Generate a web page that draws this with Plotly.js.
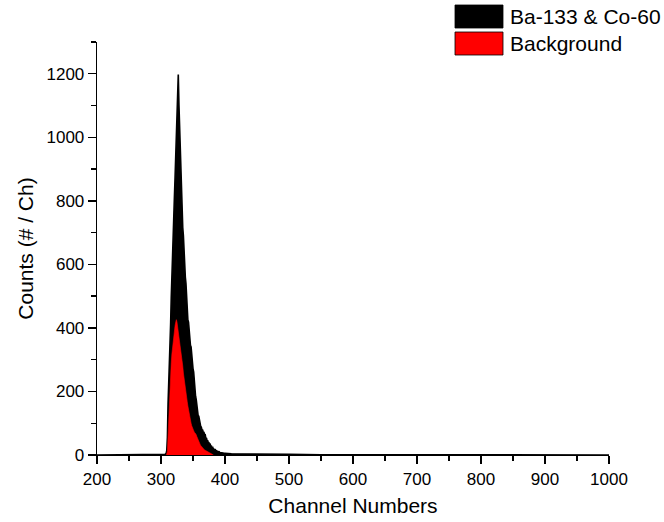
<!DOCTYPE html>
<html>
<head>
<meta charset="utf-8">
<script src="https://cdn.plot.ly/plotly-3.0.1.min.js"></script>
<style>html,body{margin:0;padding:0;background:#fff;}#chart{width:664px;height:522px;}</style>
</head>
<body>
<div id="chart"></div>
<script>
// Ba-133 & Co-60 spectrum: channels and counts
var srcChannels = [200,300,301,302,303,304,305,306,307,308,309,310,311,312,313,314,315,316,317,318,319,320,321,322,323,324,325,326,327,328,329,330,331,332,333,334,335,336,337,338,339,340,341,342,343,344,345,346,347,348,349,350,351,352,353,354,355,356,357,358,359,360,361,362,363,364,365,366,367,368,369,370,371,372,373,374,375,376,377,378,379,380,381,382,383,384,385,386,387,388,389,390,391,392,393,394,395,396,397,398,399,400,410,420,430,440,450,460,480,500,550,600,700,800,900,1000];
var srcCounts = [0,0,0,0,0,1,1,2,3,5,14,55,160,215,265,335,410,495,575,640,700,760,815,875,935,1005,1075,1150,1198,1105,1030,955,905,830,790,715,690,632,618,560,540,482,470,425,418,380,378,345,340,312,305,272,262,225,215,185,175,150,145,124,122,106,104,90,88,78,80,70,73,64,66,52,54,44,46,37,38,31,33,26,27,21,23,17,18,14,16,12,13,10,11,9,10,8,8,7,7,6,6,5,6,5,4,4,3,3,3,2,2,2,1,1,1,1,0,0];

// Background spectrum
var bgChannels = [308,309,310,311,312,313,314,315,316,317,318,319,320,321,322,323,324,325,326,327,328,329,330,331,332,333,334,335,336,337,338,339,340,341,342,343,344,345,346,347,348,349,350,351,352,353,354,355,356,357,358,359,360,361,362,363,364,365,366,367,368,369,370,371,372,373,374,375,376,377,378,379,380,381,382];
var bgCounts = [1,3,12,65,120,150,178,235,290,318,340,358,378,394,408,418,426,418,404,388,374,360,346,336,324,300,280,258,240,224,210,194,180,168,154,140,128,118,110,100,92,85,80,75,72,70,68,64,58,52,47,42,38,34,30,27,24,22,20,18,16,15,14,13,12,11,9,8,6,5,4,3,2,1,0];

var seriesNames = ['Ba-133 & Co-60', 'Background'];
var seriesColors = ['#000000', '#ff0000'];

var xTickVals = [200,300,400,500,600,700,800,900,1000];
var yTickVals = [0,200,400,600,800,1000,1200];

var W = 664, H = 522;
var M = {l: 97, r: 55, t: 42, b: 67};
var pw = W - M.l - M.r, ph = H - M.t - M.b;
function px(x) { return (x - M.l) / pw; }
function py(y) { return 1 - (y - M.t) / ph; }

var traces = [
  {x: srcChannels, y: srcCounts, type: 'scatter', mode: 'lines', fill: 'tozeroy',
   fillcolor: seriesColors[0], line: {color: seriesColors[0], width: 1.6}, name: seriesNames[0], showlegend: false},
  {x: bgChannels, y: bgCounts, type: 'scatter', mode: 'lines', fill: 'tozeroy',
   fillcolor: seriesColors[1], line: {color: seriesColors[1], width: 0.6}, name: seriesNames[1], showlegend: false}
];

var fontFam = 'Arial, "Liberation Sans", sans-serif';

var shapes = [], annotations = [];
var legendRows = [{y0: 5, y1: 28}, {y0: 32, y1: 55}];
for (var i = 0; i < seriesNames.length; i++) {
  shapes.push({type: 'rect', xref: 'paper', yref: 'paper',
    x0: px(455), x1: px(503), y0: py(legendRows[i].y1), y1: py(legendRows[i].y0),
    fillcolor: seriesColors[i], line: {color: '#000', width: 0.8}});
  annotations.push({xref: 'paper', yref: 'paper', x: px(508), y: py((legendRows[i].y0 + legendRows[i].y1) / 2),
    xanchor: 'left', yanchor: 'middle', showarrow: false, text: seriesNames[i],
    font: {family: fontFam, size: 21, color: '#000'}});
}

var layout = {
  width: W, height: H,
  margin: M,
  paper_bgcolor: '#fff', plot_bgcolor: '#fff',
  showlegend: false,
  font: {family: fontFam, color: '#000'},
  xaxis: {
    range: [200, 1000], tickvals: xTickVals, ticks: 'outside', ticklen: 8, tickwidth: 1.3, tickcolor: '#000',
    minor: {dtick: 50, ticks: 'outside', ticklen: 5, tickwidth: 1.3, tickcolor: '#000'},
    showline: true, linecolor: '#000', linewidth: 1.3, showgrid: false, zeroline: false,
    tickfont: {family: fontFam, size: 17, color: '#000'},
    title: {text: 'Channel Numbers', font: {family: fontFam, size: 21, color: '#000'}, standoff: 10}
  },
  yaxis: {
    range: [0, 1300], tickvals: yTickVals, ticks: 'outside', ticklen: 8, tickwidth: 1.3, tickcolor: '#000',
    minor: {dtick: 100, ticks: 'outside', ticklen: 5, tickwidth: 1.3, tickcolor: '#000'},
    showline: true, linecolor: '#000', linewidth: 1.3, showgrid: false, zeroline: false,
    tickfont: {family: fontFam, size: 17, color: '#000'},
    title: {text: 'Counts (# / Ch)', font: {family: fontFam, size: 21, color: '#000'}, standoff: 7}
  },
  shapes: shapes,
  annotations: annotations
};

Plotly.newPlot('chart', traces, layout, {displayModeBar: false, staticPlot: true});
</script>
</body>
</html>
